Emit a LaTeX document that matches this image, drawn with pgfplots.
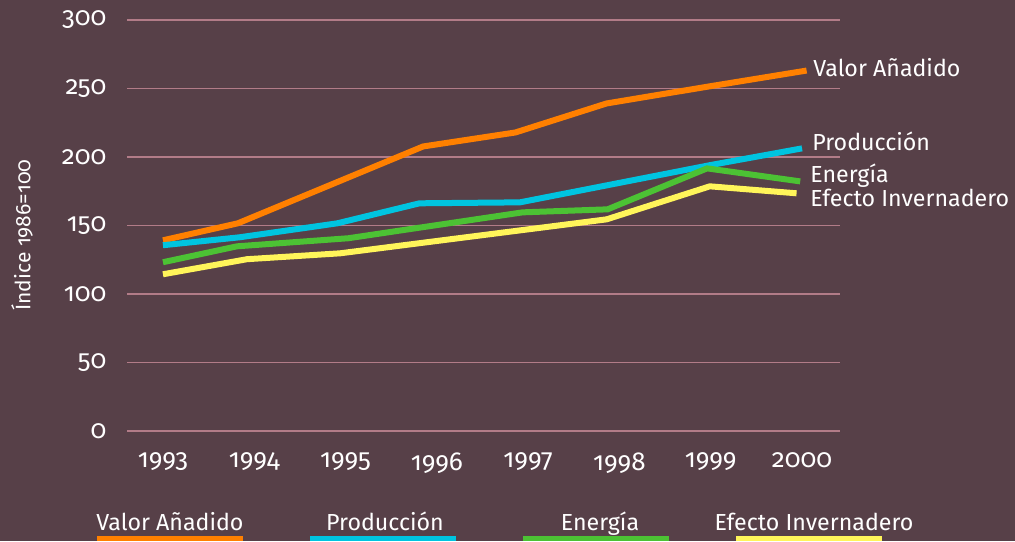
\documentclass[border=0pt]{standalone}
\usepackage{fontspec}
\setmainfont{Fira Sans}[Numbers=OldStyle]
\usepackage{pgfplots}
\pgfplotsset{compat=1.18}
\definecolor{bg}{RGB}{87,64,72}
\definecolor{gridc}{RGB}{178,124,136}
\definecolor{vaorange}{RGB}{255,128,0}
\definecolor{prcyan}{RGB}{0,196,224}
\definecolor{engreen}{RGB}{76,194,52}
\definecolor{efyellow}{RGB}{255,245,90}

\begin{document}
\begin{tikzpicture}
  \fill[bg] (0,0) rectangle (507.5pt,270.5pt);
  \begin{axis}[
      at={(63.5pt,55pt)}, anchor=south west,
      scale only axis,
      width=356.5pt, height=205.5pt,
      xmin=1992.606, xmax=2000.416,
      ymin=0, ymax=300,
      axis lines=left,
      axis line style={draw=none},
      xtick={1993,1994,1995,1996,1997,1998,1999,2000},
      ytick={0,50,100,150,200,250,300},
      major tick length=0pt,
      ymajorgrids=true,
      grid style={gridc, line width=0.9pt},
      /pgf/number format/assume math mode=true,
      /pgf/number format/1000 sep={},
      tick label style={white, font=\fontsize{13}{15}\selectfont},
      xticklabel style={yshift=-7.5pt},
      yticklabel style={xshift=-6.8pt},
      ylabel={Índice 1986=100},
      ylabel style={white, font=\fontsize{10.5}{12}\selectfont,
        at={(axis description cs:-0.1473,0.477)}, anchor=center},
      clip=false,
      every axis plot/.append style={line width=3pt, line join=miter},
    ]
    % Valor Añadido
    \addplot[vaorange] coordinates {
      (1993,139.2) (1993.82,151.6) (1995.85,207.7) (1996.86,217.9)
      (1997.86,239.1) (1998.98,251.5) (2000.05,263.1)
    };
    % Producción
    \addplot[prcyan] coordinates {
      (1993,135.6) (1993.84,141.4) (1994.91,151.6) (1995.81,166.2)
      (1996.91,166.9) (1998.98,193.9) (2000,206.3)
    };
    % Energía
    \addplot[engreen] coordinates {
      (1993,123.2) (1993.81,134.8) (1995.03,140.7) (1996.94,159.6)
      (1997.87,161.8) (1998.96,191.7) (1999.98,182.2)
    };
    % Efecto Invernadero
    \addplot[efyellow] coordinates {
      (1993,114.4) (1993.92,125.4) (1994.94,129.7) (1997.86,154.5)
      (1998.99,178.6) (1999.94,173.5)
    };
  \end{axis}

  % labels at the line ends
  \begin{scope}[every node/.style={white, inner sep=0pt, anchor=base west,
      font=\fontsize{11.6}{13}\selectfont}]
    \node at (406.5pt,232pt) {Valor Añadido};
    \node at (406pt,195pt) {Producción};
    \node at (405pt,179pt) {Energía};
    \node at (405pt,167pt) {Efecto Invernadero};
  \end{scope}

  % legend at the bottom
  \begin{scope}[every node/.style={white, inner sep=0pt, anchor=base,
      font=\fontsize{11.6}{13}\selectfont}]
    \node at (85pt,5.5pt) {Valor Añadido};
    \node at (192.5pt,5.5pt) {Producción};
    \node at (300pt,5.5pt) {Energía};
    \node at (407pt,5.5pt) {Efecto Invernadero};
    \fill[vaorange] (48.5pt,0) rectangle (121.5pt,2.5pt);
    \fill[prcyan] (155pt,0) rectangle (228pt,2.5pt);
    \fill[engreen] (261.5pt,0) rectangle (334.5pt,2.5pt);
    \fill[efyellow] (368pt,0) rectangle (441pt,2.5pt);
  \end{scope}
\end{tikzpicture}
\end{document}
